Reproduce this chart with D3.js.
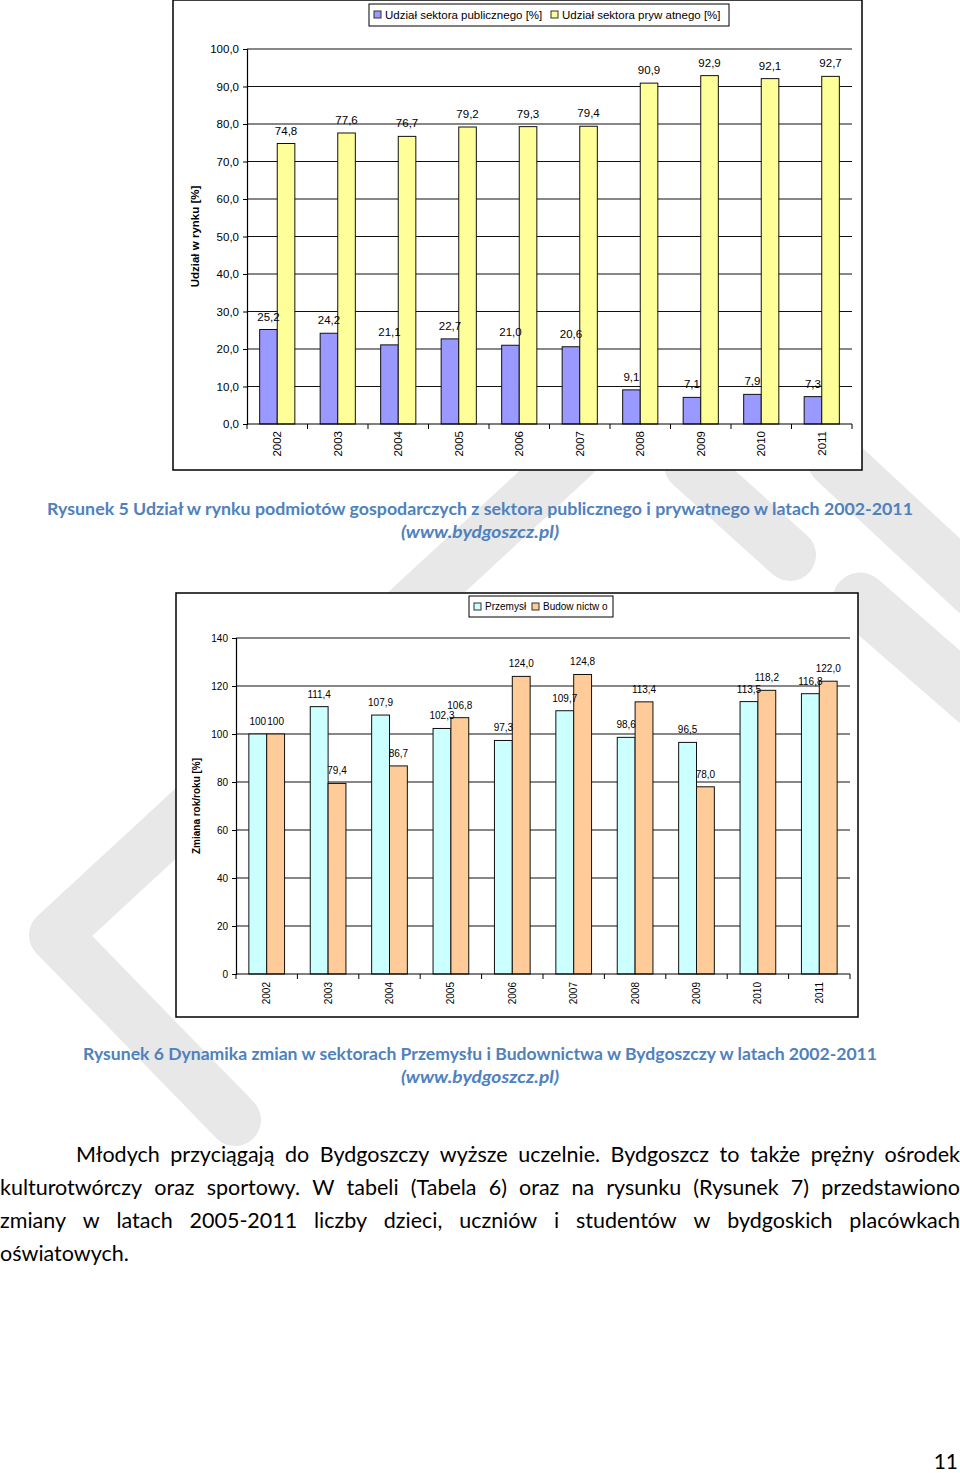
<!DOCTYPE html>
<html><head><meta charset="utf-8">
<script src="https://cdn.jsdelivr.net/npm/d3@7"></script>
<style>body{margin:0;background:#fff}svg{display:block}</style>
</head><body>
<svg id="page" width="960" height="1473"></svg>
<script>
// ---------- data ----------
const years = ["2002","2003","2004","2005","2006","2007","2008","2009","2010","2011"];
const publicShare  = [25.2,24.2,21.1,22.7,21.0,20.6,9.1,7.1,7.9,7.3];
const privateShare = [74.8,77.6,76.7,79.2,79.3,79.4,90.9,92.9,92.1,92.7];
const shareTicks = [0,10,20,30,40,50,60,70,80,90,100];
const shareSeries = ["Udział sektora publicznego [%]","Udział sektora pryw atnego [%]"];

const industry     = [100,111.4,107.9,102.3,97.3,109.7,98.6,96.5,113.5,116.8];
const construction = [100,79.4,86.7,106.8,124.0,124.8,113.4,78.0,118.2,122.0];
const changeTicks = [0,20,40,60,80,100,120,140];
const changeSeries = ["Przemysł","Budow nictw o"];

const caption1 = ["Rysunek 5 Udział w rynku podmiotów gospodarczych z sektora publicznego i prywatnego  w latach 2002-2011","(www.bydgoszcz.pl)"];
const caption2 = ["Rysunek 6 Dynamika zmian w sektorach Przemysłu i Budownictwa w Bydgoszczy w latach 2002-2011","(www.bydgoszcz.pl)"];
const bodyLines = [
 "Młodych przyciągają do Bydgoszczy wyższe uczelnie. Bydgoszcz to także prężny ośrodek",
 "kulturotwórczy oraz sportowy. W tabeli (Tabela 6)  oraz na rysunku (Rysunek 7) przedstawiono",
 "zmiany w latach 2005-2011 liczby dzieci, uczniów i studentów w bydgoskich placówkach",
 "oświatowych."
];

const svg = d3.select("#page");
svg.append("rect").attr("width",960).attr("height",1473).attr("fill","#fff");

// ---------- watermark (decoration) ----------
const wm = svg.append("g").attr("fill","none").attr("stroke","#e8e8e8").attr("stroke-linecap","round").attr("stroke-linejoin","round");
wm.append("path").attr("d","M575,455 L55,935 L235,1120").attr("stroke-width",52);
wm.append("path").attr("d","M690,465 L790,555").attr("stroke-width",52);
wm.append("path").attr("d","M835,460 L975,590").attr("stroke-width",55);
wm.append("path").attr("d","M860,600 L975,700").attr("stroke-width",55);

const comma = v => d3.format(".1f")(v).replace(".",",");

function drawChart(c){
  const g = svg.append("g").attr("font-family","'Liberation Sans', Arial, sans-serif");
  g.append("rect").attr("x",c.box[0]).attr("y",c.box[1]).attr("width",c.box[2]-c.box[0]).attr("height",c.box[3]-c.box[1])
    .attr("fill","#fff").attr("stroke","#000").attr("stroke-width",1.5);
  // legend
  const L = c.legend;
  g.append("rect").attr("x",L.x0).attr("y",L.y0).attr("width",L.x1-L.x0).attr("height",L.y1-L.y0)
    .attr("fill","#fff").attr("stroke","#000").attr("stroke-width",1);
  c.series.forEach((s,i)=>{
    g.append("rect").attr("x",L.items[i]).attr("y",L.sq).attr("width",7).attr("height",7)
      .attr("fill",c.colors[i]).attr("stroke","#333").attr("stroke-width",1);
    g.append("text").attr("x",L.items[i]+11).attr("y",L.base).attr("font-size",c.fs).attr("fill","#000").text(s);
  });
  const x = d3.scaleBand().domain(years).range([c.px0,c.px1]).padding(0);
  const sub = d3.scaleBand().domain([0,1]).range([0,x.bandwidth()]).paddingInner(0).paddingOuter(0.72);
  const y = d3.scaleLinear().domain([0,c.max]).range([c.py0,c.py1]);
  // gridlines
  g.append("g").selectAll("line").data(c.ticks.filter(t=>t>0)).join("line")
    .attr("x1",c.px0).attr("x2",c.px1).attr("y1",d=>y(d)).attr("y2",d=>y(d))
    .attr("stroke","#111").attr("stroke-width",1.1);
  // y axis
  const ya = g.append("g").attr("transform",`translate(${c.px0},0)`)
    .call(d3.axisLeft(y).tickValues(c.ticks).tickSize(4).tickPadding(4).tickFormat(c.tickFmt));
  ya.select(".domain").attr("stroke","#000").attr("stroke-width",1.2);
  ya.selectAll("line").attr("stroke","#000");
  ya.selectAll("text").attr("font-size",c.fs).attr("font-family","'Liberation Sans', Arial, sans-serif").attr("fill","#000");
  // bars
  const vals = [c.a,c.b];
  vals.forEach((arr,si)=>{
    g.append("g").selectAll("rect").data(arr).join("rect")
      .attr("x",(d,i)=>x(years[i])+sub(si)).attr("width",sub.bandwidth())
      .attr("y",d=>y(d)).attr("height",d=>y(0)-y(d))
      .attr("fill",c.colors[si]).attr("stroke","#111").attr("stroke-width",1);
  });
  // x axis
  g.append("line").attr("x1",c.px0).attr("x2",c.px1).attr("y1",y(0)).attr("y2",y(0)).attr("stroke","#000").attr("stroke-width",1.2);
  const bounds = years.map(yr=>x(yr)).concat([c.px1]);
  g.append("g").selectAll("line").data(bounds).join("line")
    .attr("x1",d=>d).attr("x2",d=>d).attr("y1",y(0)).attr("y2",y(0)+5).attr("stroke","#000");
  g.append("g").selectAll("text").data(years).join("text")
    .attr("transform",d=>`translate(${x(d)+x.bandwidth()/2},${c.yearTop}) rotate(-90)`)
    .attr("text-anchor","end").attr("dy","0.35em").attr("font-size",c.fs).attr("fill","#000").text(d=>d);
  // value labels
  vals.forEach((arr,si)=>{
    g.append("g").selectAll("text").data(arr).join("text")
      .attr("x",(d,i)=>x(years[i])+sub(si)+sub.bandwidth()/2).attr("y",d=>y(d)-c.lblOff)
      .attr("text-anchor","middle").attr("font-size",c.fs).attr("fill","#000").text(c.lblFmt);
  });
  // y title
  g.append("text").attr("transform",`translate(${c.titleX},${(c.py0+c.py1)/2}) rotate(-90)`)
    .attr("text-anchor","middle").attr("font-size",c.fs).attr("font-weight","bold").attr("fill","#000").text(c.yTitle);
}

drawChart({
  box:[173,0,862,470],
  legend:{x0:369,y0:4,x1:729,y1:26,items:[374,551],sq:11,base:19},
  series:shareSeries, colors:["#9999FF","#FFFF99"],
  px0:247, px1:852, py0:424, py1:49, max:100, ticks:shareTicks,
  tickFmt:comma, lblFmt:comma, a:publicShare, b:privateShare,
  fs:11.5, yearTop:431, lblOff:9, titleX:199, yTitle:"Udział w rynku [%]"
});

drawChart({
  box:[176,593,858,1017],
  legend:{x0:469,y0:596,x1:613,y1:617,items:[474,532],sq:603,base:610},
  series:changeSeries, colors:["#CCFFFF","#FFCC99"],
  px0:236, px1:850, py0:974, py1:638, max:140, ticks:changeTicks,
  tickFmt:d3.format("d"), lblFmt:v=> v===100 ? "100" : comma(v), a:industry, b:construction,
  fs:10, yearTop:982, lblOff:9, titleX:200, yTitle:"Zmiana rok/roku [%]"
});

// ---------- captions ----------
function caption(lines, y0, w1){
  const g = svg.append("g").attr("font-family","Lato, 'Open Sans', sans-serif").attr("font-weight","bold").attr("fill","#4F81BD").attr("text-anchor","middle");
  g.append("text").attr("x",480).attr("y",y0).attr("font-size",17.5).attr("textLength",w1).attr("lengthAdjust","spacingAndGlyphs").text(lines[0]);
  g.append("text").attr("x",480).attr("y",y0+23).attr("font-size",17.5).attr("font-style","italic").attr("textLength",158).attr("lengthAdjust","spacingAndGlyphs").text(lines[1]);
}
caption(caption1, 515, 866);
caption(caption2, 1060, 794);

// ---------- body text (justified) ----------
const bg = svg.append("g").attr("font-family","Lato, 'Open Sans', sans-serif").attr("font-size",21.5).attr("fill","#000");
const lineX = [[76,960],[0,960],[0,960],[0,null]];
bodyLines.forEach((ln,li)=>{
  const yb = 1162 + li*33;
  const [xs,xe] = lineX[li];
  if(xe===null){ bg.append("text").attr("x",xs).attr("y",yb).text(ln); return; }
  const words = ln.split(/\s+/);
  const nodes = words.map(w=>bg.append("text").attr("y",yb).text(w));
  const widths = nodes.map(n=>n.node().getComputedTextLength());
  const gap = (xe-xs-d3.sum(widths))/(words.length-1);
  let cx = xs;
  nodes.forEach((n,i)=>{ n.attr("x",cx); cx += widths[i]+gap; });
});
svg.append("text").attr("x",958).attr("y",1469).attr("text-anchor","end").attr("font-family","Lato, 'Open Sans', sans-serif").attr("font-size",21).attr("fill","#000").text("11");
</script>
</body></html>
